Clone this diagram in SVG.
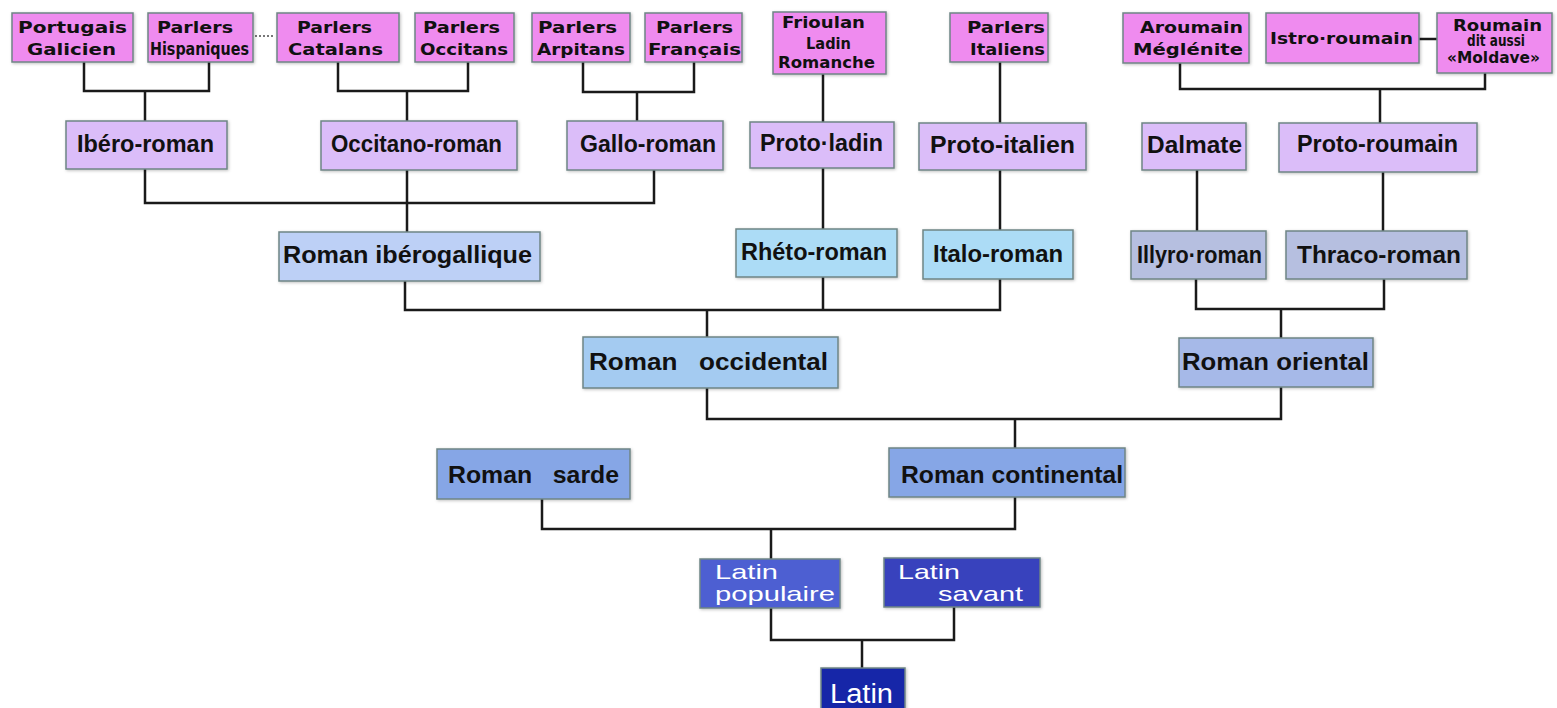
<svg xmlns="http://www.w3.org/2000/svg" width="1557" height="708" viewBox="0 0 1557 708">
<style>
.box{stroke:#6f8585;stroke-width:1.5;filter:url(#sh)}
.pk{fill:#ef8bef}
.pu{fill:#dbbdf9}
.ig{fill:#bdd0f6}
.sk{fill:#acdcf6}
.gr{fill:#b6bfe0}
.oc{fill:#a4cbf1}
.or{fill:#a6b9e8}
.sc{fill:#86a6e6}
.lp{fill:#4e5ed2}
.ls{fill:#3942bd}
.la{fill:#1828a8}
.t1{font-family:"DejaVu Sans",Verdana,sans-serif;font-weight:bold;font-size:16px;fill:#111}
.t1s{font-family:"DejaVu Sans",Verdana,sans-serif;font-weight:bold;font-size:15px;fill:#111}
.t2{font-family:"Liberation Sans",Arial,sans-serif;font-weight:bold;font-size:23px;fill:#111}
.t3{font-family:"Liberation Sans",Arial,sans-serif;font-size:21px;fill:#fff}
.con{fill:none;stroke:#1a1a1a;stroke-width:2.5;stroke-linejoin:miter}
</style>
<defs>
<filter id="sh" x="-10%" y="-20%" width="130%" height="150%">
<feDropShadow dx="1" dy="1" stdDeviation="1.5" flood-color="#000" flood-opacity="0.25"/>
</filter>
</defs>
<rect width="1557" height="708" fill="#fff"/>
<g id="connectors">
<path class="con" d="M84 62V91H209V62M145 91V121"/>
<path class="con" d="M338 62V91H468V62M407 91V121"/>
<path class="con" d="M583 62V92H694V62M637 92V121"/>
<path class="con" d="M823 74V122"/>
<path class="con" d="M1000 62V123"/>
<path class="con" d="M1180 63V89H1485V73M1380 89V123"/>
<path class="con" d="M1419 39H1437"/>
<path d="M255 36H274" fill="none" stroke="#777" stroke-width="2" stroke-dasharray="2 2"/>
<path class="con" d="M145 169V203H654V170M407 170V232"/>
<path class="con" d="M823 168V229"/>
<path class="con" d="M1000 170V230"/>
<path class="con" d="M1197 170V231"/>
<path class="con" d="M1383 172V231"/>
<path class="con" d="M405 281V310H1000V279M823 277V310M707 310V337"/>
<path class="con" d="M1196 279V309H1384V279M1281 309V338"/>
<path class="con" d="M707 388V419H1281V387M1015 419V448"/>
<path class="con" d="M542 499V529H1015V497M771 529V559"/>
<path class="con" d="M771 608V640H954V607M862 640V668"/>
</g>
<g id="portugais"><rect class="box pk" x="12" y="13" width="121" height="49"/>
<text class="t1" x="18" y="33" textLength="109" lengthAdjust="spacingAndGlyphs">Portugais</text>
<text class="t1" x="27" y="55" textLength="89" lengthAdjust="spacingAndGlyphs">Galicien</text></g>
<g id="hispaniques"><rect class="box pk" x="148" y="13" width="105" height="49"/>
<text class="t1" x="157" y="33" textLength="76" lengthAdjust="spacingAndGlyphs">Parlers</text>
<text class="t1" x="150" y="55" style="font-size:18px" textLength="99" lengthAdjust="spacingAndGlyphs">Hispaniques</text></g>
<g id="catalans"><rect class="box pk" x="277" y="13" width="122" height="49"/>
<text class="t1" x="297" y="33" textLength="75" lengthAdjust="spacingAndGlyphs">Parlers</text>
<text class="t1" x="288" y="55" textLength="95" lengthAdjust="spacingAndGlyphs">Catalans</text></g>
<g id="occitans"><rect class="box pk" x="415" y="13" width="99" height="49"/>
<text class="t1" x="423" y="33" textLength="77" lengthAdjust="spacingAndGlyphs">Parlers</text>
<text class="t1" x="420" y="55" textLength="88" lengthAdjust="spacingAndGlyphs">Occitans</text></g>
<g id="arpitans"><rect class="box pk" x="532" y="13" width="98" height="49"/>
<text class="t1" x="538" y="33" textLength="79" lengthAdjust="spacingAndGlyphs">Parlers</text>
<text class="t1" x="537" y="55" textLength="88" lengthAdjust="spacingAndGlyphs">Arpitans</text></g>
<g id="francais"><rect class="box pk" x="645" y="13" width="97" height="49"/>
<text class="t1" x="656" y="33" textLength="77" lengthAdjust="spacingAndGlyphs">Parlers</text>
<text class="t1" x="648" y="55" textLength="93" lengthAdjust="spacingAndGlyphs">Français</text></g>
<g id="frioulan"><rect class="box pk" x="773" y="12" width="113" height="62"/>
<text class="t1s" x="782" y="28" textLength="83" lengthAdjust="spacingAndGlyphs">Frioulan</text>
<text class="t1s" x="806" y="49" textLength="45" lengthAdjust="spacingAndGlyphs">Ladin</text>
<text class="t1s" x="778" y="68" textLength="97" lengthAdjust="spacingAndGlyphs">Romanche</text></g>
<g id="italiens"><rect class="box pk" x="950" y="13" width="98" height="49"/>
<text class="t1" x="967" y="33" textLength="78" lengthAdjust="spacingAndGlyphs">Parlers</text>
<text class="t1" x="970" y="55" textLength="75" lengthAdjust="spacingAndGlyphs">Italiens</text></g>
<g id="aroumain"><rect class="box pk" x="1123" y="13" width="126" height="50"/>
<text class="t1" x="1140" y="33" textLength="103" lengthAdjust="spacingAndGlyphs">Aroumain</text>
<text class="t1" x="1133" y="55" textLength="110" lengthAdjust="spacingAndGlyphs">Méglénite</text></g>
<g id="istro"><rect class="box pk" x="1266" y="13" width="153" height="50"/>
<text class="t1" x="1270" y="44" textLength="143" lengthAdjust="spacingAndGlyphs">Istro·roumain</text></g>
<g id="roumain"><rect class="box pk" x="1437" y="13" width="115" height="60"/>
<text class="t1" x="1453" y="31" textLength="89" lengthAdjust="spacingAndGlyphs">Roumain</text>
<text class="t1s" x="1467" y="46" textLength="58" lengthAdjust="spacingAndGlyphs">dit aussi</text>
<text class="t1s" x="1447" y="63" textLength="93" lengthAdjust="spacingAndGlyphs">«Moldave»</text></g>
<g id="ibero"><rect class="box pu" x="66" y="121" width="161" height="48"/>
<text class="t2" x="77" y="152" textLength="137" lengthAdjust="spacingAndGlyphs">Ibéro-roman</text></g>
<g id="occitano"><rect class="box pu" x="321" y="121" width="196" height="49"/>
<text class="t2" x="331" y="152" textLength="171" lengthAdjust="spacingAndGlyphs">Occitano-roman</text></g>
<g id="gallo"><rect class="box pu" x="567" y="121" width="156" height="49"/>
<text class="t2" x="580" y="152" textLength="136" lengthAdjust="spacingAndGlyphs">Gallo-roman</text></g>
<g id="protoladin"><rect class="box pu" x="750" y="122" width="144" height="46"/>
<text class="t2" x="760" y="151" textLength="123" lengthAdjust="spacingAndGlyphs">Proto·ladin</text></g>
<g id="protoitalien"><rect class="box pu" x="919" y="123" width="167" height="47"/>
<text class="t2" x="930" y="153" textLength="145" lengthAdjust="spacingAndGlyphs">Proto-italien</text></g>
<g id="dalmate"><rect class="box pu" x="1142" y="123" width="104" height="47"/>
<text class="t2" x="1147" y="153" textLength="95" lengthAdjust="spacingAndGlyphs">Dalmate</text></g>
<g id="protoroumain"><rect class="box pu" x="1279" y="123" width="198" height="49"/>
<text class="t2" x="1297" y="152" textLength="161" lengthAdjust="spacingAndGlyphs">Proto-roumain</text></g>
<g id="iberogallique"><rect class="box ig" x="279" y="232" width="261" height="49"/>
<text class="t2" x="283" y="263" textLength="249" lengthAdjust="spacingAndGlyphs">Roman ibérogallique</text></g>
<g id="rheto"><rect class="box sk" x="736" y="229" width="161" height="48"/>
<text class="t2" x="741" y="260" textLength="146" lengthAdjust="spacingAndGlyphs">Rhéto-roman</text></g>
<g id="italo"><rect class="box sk" x="923" y="230" width="150" height="49"/>
<text class="t2" x="933" y="262" textLength="130" lengthAdjust="spacingAndGlyphs">Italo-roman</text></g>
<g id="illyro"><rect class="box gr" x="1131" y="231" width="135" height="48"/>
<text class="t2" x="1137" y="263" textLength="125" lengthAdjust="spacingAndGlyphs">Illyro·roman</text></g>
<g id="thraco"><rect class="box gr" x="1286" y="231" width="181" height="48"/>
<text class="t2" x="1297" y="263" textLength="164" lengthAdjust="spacingAndGlyphs">Thraco-roman</text></g>
<g id="occidental"><rect class="box oc" x="583" y="337" width="255" height="51"/>
<text class="t2" x="589" y="370" textLength="239" lengthAdjust="spacingAndGlyphs" xml:space="preserve">Roman   occidental</text></g>
<g id="oriental"><rect class="box or" x="1179" y="338" width="194" height="49"/>
<text class="t2" x="1182" y="370" textLength="187" lengthAdjust="spacingAndGlyphs">Roman oriental</text></g>
<g id="sarde"><rect class="box sc" x="437" y="449" width="193" height="50"/>
<text class="t2" x="448" y="483" textLength="171" lengthAdjust="spacingAndGlyphs" xml:space="preserve">Roman   sarde</text></g>
<g id="continental"><rect class="box sc" x="889" y="448" width="236" height="49"/>
<text class="t2" x="901" y="483" textLength="222" lengthAdjust="spacingAndGlyphs">Roman continental</text></g>
<g id="populaire"><rect class="box lp" x="700" y="559" width="140" height="49"/>
<text class="t3" x="715" y="579" textLength="63" lengthAdjust="spacingAndGlyphs">Latin</text>
<text class="t3" x="715" y="601" textLength="120" lengthAdjust="spacingAndGlyphs">populaire</text></g>
<g id="savant"><rect class="box ls" x="884" y="558" width="156" height="49"/>
<text class="t3" x="898" y="579" textLength="62" lengthAdjust="spacingAndGlyphs">Latin</text>
<text class="t3" x="938" y="601" textLength="85" lengthAdjust="spacingAndGlyphs">savant</text></g>
<g id="latin"><rect class="box la" x="821" y="668" width="84" height="46"/>
<text class="t3" x="830" y="703" style="font-size:27px" textLength="63" lengthAdjust="spacingAndGlyphs">Latin</text></g>
</svg>
